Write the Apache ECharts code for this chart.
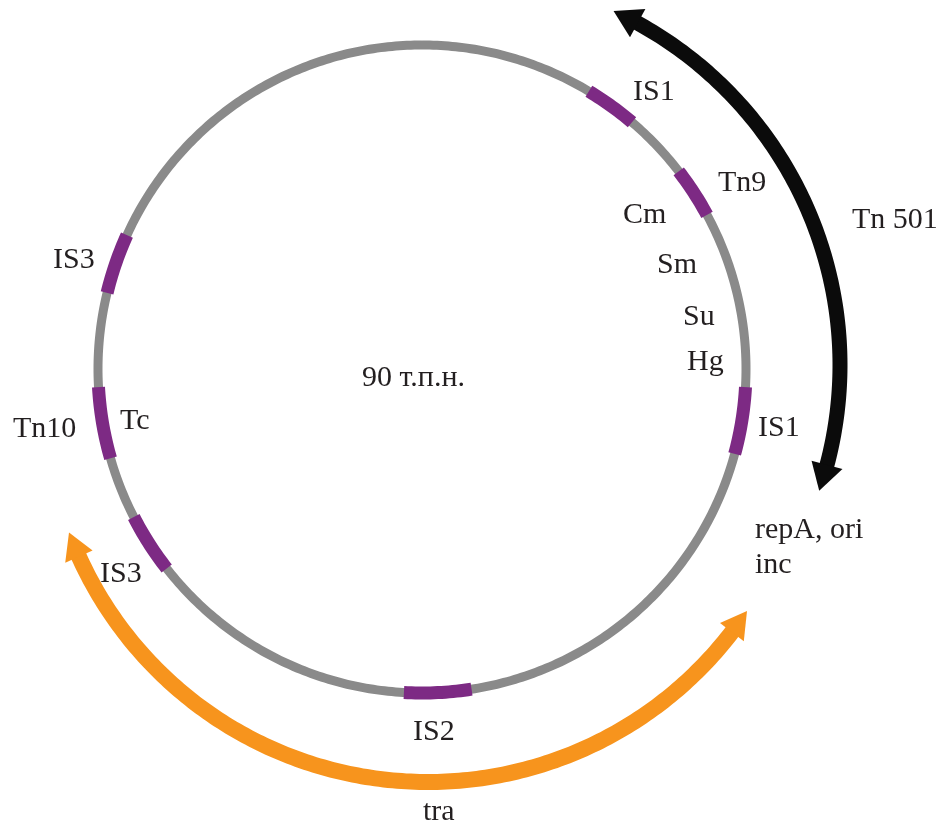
<!DOCTYPE html>
<html lang="ru">
<head>
    <meta charset="UTF-8">
    <title>Плазмида R100</title>
    <script src="https://cdn.jsdelivr.net/npm/echarts@6/dist/echarts.min.js"></script>
    <style>
        html, body { margin: 0; padding: 0; background: #fff; }
    </style>
</head>
<body>
<div id="main" style="width: 942px;height:828px;"></div>
<script>
    // размер плазмиды, т.п.н.
    var plasmidSize = 90;
    var plasmidTitle = '90 т.п.н.';

    // вставки IS / Tn на кольце (т.п.н., по часовой стрелке от верха)
    var featureNames = ['IS1', 'Tn9', 'IS1', 'IS2', 'IS3', 'Tn10', 'IS3'];
    var featureStart = [7.75, 13.1, 23.3, 42.8, 58.0, 63.5, 70.9];
    var featureEnd   = [10.1, 15.4, 26.3, 45.8, 60.7, 66.7, 73.6];

    // стрелки-области
    var arrowNames = ['Tn 501', 'tra'];
    var arrowStart = [6.2, 30.9];
    var arrowEnd   = [27.2, 62.4];

    // подписи генов
    var geneLabels = ['Cm', 'Sm', 'Su', 'Hg', 'Tc', 'repA, ori', 'inc'];

    // радиусы (px) колец
    var ringR = 324, tnR = 390, traR = 383;

    var myChart = echarts.init(document.getElementById('main'));

    function arcPts(api, r, a0, a1) {
        var n = Math.max(10, Math.ceil(Math.abs(a1 - a0) * 6));
        var pts = [];
        for (var i = 0; i <= n; i++) {
            pts.push(api.coord([r, a0 + (a1 - a0) * i / n]));
        }
        return pts;
    }

    function ringItem(color, width) {
        return function (params, api) {
            var r = api.value(0);
            return {
                type: 'polyline',
                shape: { points: arcPts(api, r, api.value(1), api.value(2)) },
                style: { stroke: color, lineWidth: width, fill: null, lineCap: 'butt', lineJoin: 'round' }
            };
        };
    }

    var arrowStyle = [
        { color: '#0b0b0b', width: 15, headLen: 27, headW: 32 },
        { color: '#f7941d', width: 16, headLen: 26, headW: 30 }
    ];

    function arrowItem(idx) {
        return function (params, api) {
            var st = arrowStyle[idx];
            var r = api.value(0), a0 = api.value(1), a1 = api.value(2);
            var k = plasmidSize / (2 * Math.PI * r);
            var hl = st.headLen * k;
            var hw = st.headW / 2;
            return {
                type: 'group',
                children: [{
                    type: 'polyline',
                    shape: { points: arcPts(api, r, a0 + hl * 0.8, a1 - hl * 0.8) },
                    style: { stroke: st.color, lineWidth: st.width, fill: null, lineCap: 'butt' }
                }, {
                    type: 'polygon',
                    shape: { points: [api.coord([r, a0]), api.coord([r + hw, a0 + hl]), api.coord([r - hw, a0 + hl])] },
                    style: { fill: st.color }
                }, {
                    type: 'polygon',
                    shape: { points: [api.coord([r, a1]), api.coord([r + hw, a1 - hl]), api.coord([r - hw, a1 - hl])] },
                    style: { fill: st.color }
                }]
            };
        };
    }

    var featureData = [];
    for (var i = 0; i < featureNames.length; i++) {
        featureData.push({ name: featureNames[i], value: [ringR, featureStart[i], featureEnd[i]] });
    }

    // подписи: [текст, x, y(центр)]
    var font = '30px "Liberation Serif", "Times New Roman", serif';
    var labelLayout = [
        [featureNames[0], 633, 92],
        [featureNames[1], 718, 183],
        [geneLabels[0], 623, 215],
        [arrowNames[0], 852, 220],
        [featureNames[6], 53, 260],
        [geneLabels[1], 657, 265],
        [geneLabels[2], 683, 317],
        [geneLabels[3], 687, 362],
        [plasmidTitle, 362, 378],
        [featureNames[5], 13, 429],
        [geneLabels[4], 120, 421],
        [featureNames[2], 758, 428],
        [geneLabels[5], 755, 530],
        [geneLabels[6], 755, 565],
        [featureNames[4], 100, 574],
        [featureNames[3], 413, 732],
        [arrowNames[1], 423, 812]
    ];
    var texts = labelLayout.map(function (l) {
        return {
            type: 'text', x: l[1], y: l[2], silent: true,
            style: { text: l[0], font: font, fill: '#231f20', align: 'left', verticalAlign: 'middle',
                     textAlign: 'left', textVerticalAlign: 'middle' }
        };
    });

    function polarAxes(n, rMax) {
        return {
            angle: { polarIndex: n, type: 'value', min: 0, max: plasmidSize, startAngle: 90, clockwise: true, show: false },
            radius: { polarIndex: n, type: 'value', min: 0, max: rMax, show: false }
        };
    }
    var ax0 = polarAxes(0, ringR), ax1 = polarAxes(1, traR), ax2 = polarAxes(2, tnR);

    myChart.setOption({
        animation: false,
        polar: [
            { center: [422, 369], radius: ringR },
            { center: [428, 399], radius: traR },
            { center: [450, 365], radius: tnR }
        ],
        angleAxis: [ax0.angle, ax1.angle, ax2.angle],
        radiusAxis: [ax0.radius, ax1.radius, ax2.radius],
        graphic: texts,
        series: [
            {
                // кольцо плазмиды
                type: 'custom', coordinateSystem: 'polar', polarIndex: 0,
                renderItem: ringItem('#8a8a8a', 9),
                data: [[ringR, 0, plasmidSize]]
            },
            {
                type: 'custom', coordinateSystem: 'polar', polarIndex: 0,
                renderItem: ringItem('#7d2a84', 13),
                data: featureData
            },
            {
                // Tn 501
                type: 'custom', coordinateSystem: 'polar', polarIndex: 2,
                renderItem: arrowItem(0),
                data: [[tnR, arrowStart[0], arrowEnd[0]]]
            },
            {
                // tra
                type: 'custom', coordinateSystem: 'polar', polarIndex: 1,
                renderItem: arrowItem(1),
                data: [[traR, arrowStart[1], arrowEnd[1]]]
            }
        ]
    });
</script>
</body>
</html>
